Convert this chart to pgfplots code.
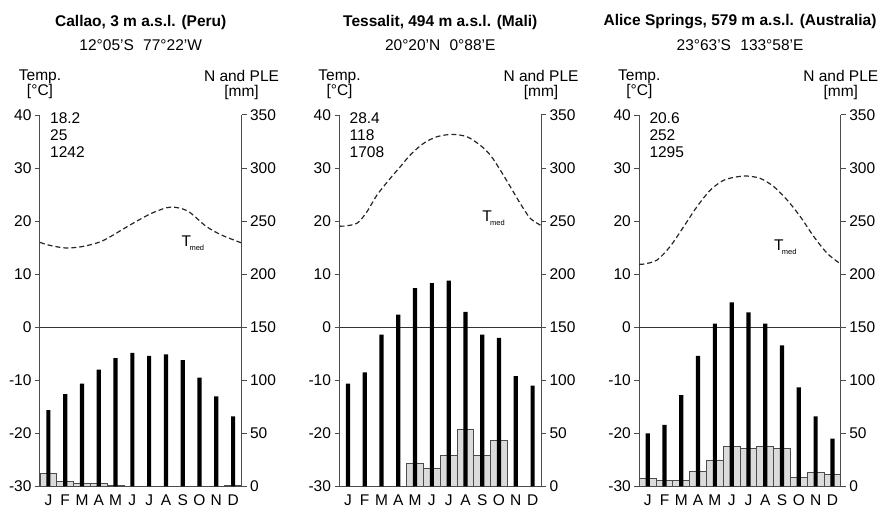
\documentclass[border=0pt]{standalone}
\usepackage{fontspec}
\setmainfont{Liberation Sans}
\usepackage{pgfplots}
\usepackage{pgfplotstable}
\pgfplotsset{compat=1.18}

\newcommand{\fs}{\fontsize{15.5}{17}\selectfont}

% monthly values: N = precipitation (grey), PLE (black) in mm
\pgfplotstableread{
m N PLE
1 12 72
2 5 87
3 2.5 97
4 3 110
5 1 121
6 0 126
7 0 123
8 0 124.5
9 0 119
10 0 102.5
11 0 85
12 1 66
}\callao
\pgfplotstableread{
m N PLE
1 0 97
2 0 107.5
3 0 143
4 0 162
5 22 187
6 17.5 191.5
7 29.5 194
8 53.5 164.5
9 29.5 143
10 43 140
11 0 104
12 0 95
}\tessalit
\pgfplotstableread{
m N PLE
1 7.5 50
2 6 58
3 6 86
4 14.5 123
5 25 153.5
6 37.5 173.5
7 36 164
8 37.5 153.5
9 36 133
10 8.5 93.5
11 13.5 66
12 11.5 45
}\alice

% mean temperature curves (deg C)
\pgfplotstableread{
m T
0.5 16.0
1.0 15.5
2.0 14.95
3.0 15.2
4.0 16.0
4.65 17.0
5.5 18.6
6.43 20.3
7.3 21.7
8.3 22.65
9.3 21.9
10.38 19.05
11.3 17.4
12.5 15.9
}\callaoT
\pgfplotstableread{
m T
0.5 19.1
0.74 19.06
1.54 19.6
2.13 21.75
2.73 24.9
3.52 28.05
4.12 30.25
4.71 32.45
5.5 34.65
6.3 35.9
7.2 36.35
8.09 35.9
8.88 34.3
9.48 32.45
10.08 29.6
10.67 26.5
11.27 23.3
11.87 20.5
12.5 19.2
}\tessalitT
\pgfplotstableread{
m T
0.5 11.9
0.74 11.9
1.54 12.64
2.33 15.2
3.13 18.9
3.93 22.7
4.73 25.85
5.52 27.7
6.32 28.35
6.92 28.5
7.71 28.05
8.51 26.5
9.31 23.96
10.1 20.8
10.9 17.05
11.7 13.9
12.5 11.9
}\aliceT

\pgfplotsset{
  base/.style={scale only axis, width=201.5pt, height=371.5pt,
    xmin=0.5, xmax=12.5, clip=false, anchor=south west,
    tick label style={font=\fs}, /pgf/number format/assume math mode=true,
    axis line style={-, black!70, line width=1pt},
    tick style={black!70, line width=1pt},
    tick align=outside, major tick length=5pt},
  temp/.style={base, ymin=-30, ymax=40, ytick={-30,-20,...,40},
    axis y line*=left, axis x line*=bottom,
    xtick={1,...,12}, xticklabels={J,F,M,A,M,J,J,A,S,O,N,D},
    x tick style={draw=none}},
  mm/.style={base, ymin=0, ymax=350, ytick={0,50,...,350},
    axis y line*=right, axis x line=none},
}

% #1 x position, #2 bar table, #3 curve table, #4 title, #5 coordinates,
% #6 stats, #7 T label x, #8 T label y
\newcommand{\panel}[8]{%
\begin{axis}[temp, at={(#1,24.5pt)}]
\addplot[black!80, line width=0.8pt] coordinates {(0.5,0) (12.5,0)};
\addplot[smooth, black!85, line width=1.2pt, dash pattern=on 5pt off 3pt] table[x=m,y=T]{#3};
\node[font=\fs\bfseries, yshift=93pt] at (rel axis cs:0.5,1) {#4};
\node[font=\fs, yshift=70pt] at (rel axis cs:0.5,1) {#5};
\node[font=\fontsize{15.5}{15}\selectfont, align=center, yshift=30.5pt] at (rel axis cs:0,1) {Temp.\\{[°C]}};
\node[font=\fontsize{15.5}{15}\selectfont, align=center, yshift=30.5pt] at (rel axis cs:1,1) {N and PLE\\{[mm]}};
\node[font=\fs, anchor=north west, align=left, inner sep=0pt, xshift=10pt, yshift=3pt] at (rel axis cs:0,1) {#6};
\node[font=\fs, anchor=base west, inner sep=0pt] at (axis cs:#7,#8) {T\kern-1.5pt\raisebox{-4pt}{\fontsize{7.5}{9}\selectfont med}};
\end{axis}
\begin{axis}[mm, at={(#1,24.5pt)}]
\addplot[ybar, bar width=1, bar shift=0pt, fill=gray!28, draw=black!70, line width=0.8pt] table[x=m,y=N]{#2};
\addplot[ybar, bar width=4.2pt, bar shift=0pt, fill=black, draw=none] table[x=m,y=PLE]{#2};
\end{axis}}

\begin{document}
\begin{tikzpicture}
\useasboundingbox (0,0) rectangle (896pt,511pt);
\panel{40pt}{\callao}{\callaoT}{Callao, 3 m a.s.l. (Peru)}{12°05'S\hspace{0.6em}77°22'W}{18.2\\25\\1242}{8.92}{15.25}
\panel{339.5pt}{\tessalit}{\tessalitT}{Tessalit, 494 m a.s.l. (Mali)}{20°20'N\hspace{0.6em}0°88'E}{28.4\\118\\1708}{8.99}{19.87}
\panel{639.3pt}{\alice}{\aliceT}{Alice Springs, 579 m a.s.l. (Australia)}{23°63'S\hspace{0.6em}133°58'E}{20.6\\252\\1295}{8.51}{14.5}
\end{tikzpicture}
\end{document}
